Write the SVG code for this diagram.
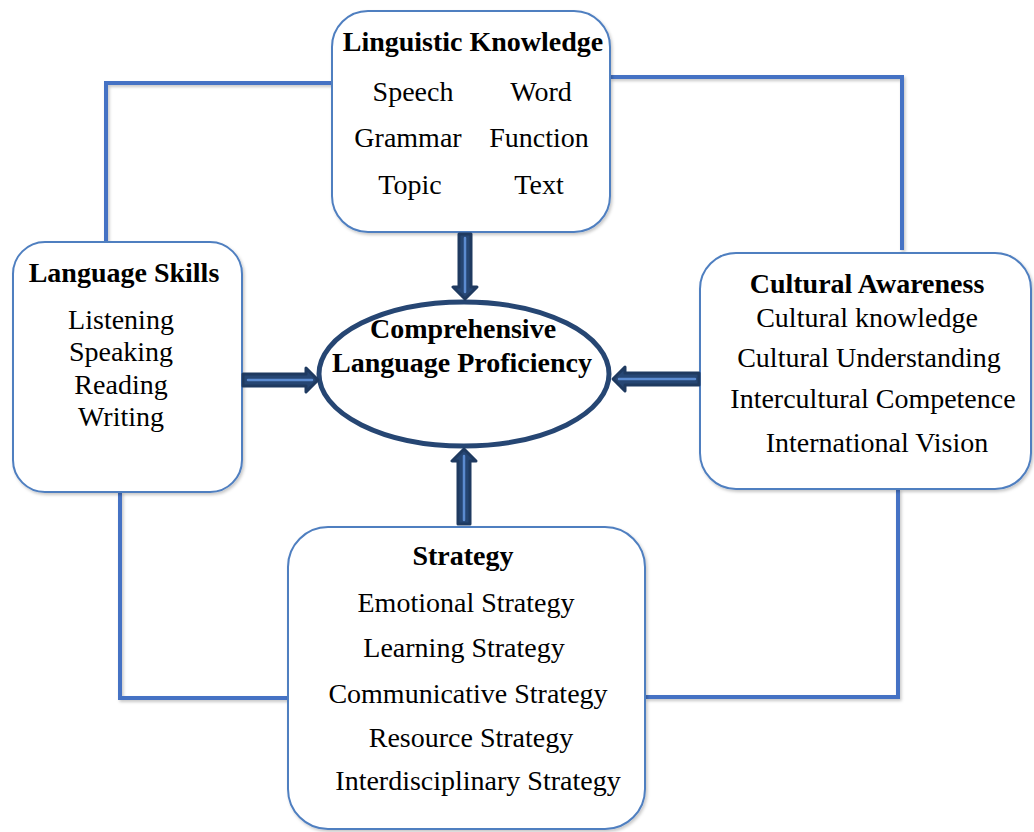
<svg xmlns="http://www.w3.org/2000/svg" width="1034" height="832" viewBox="0 0 1034 832">
  <defs>
    <filter id="shadow" x="-10%" y="-10%" width="120%" height="120%">
      <feDropShadow dx="1.5" dy="2" stdDeviation="1.5" flood-color="#000" flood-opacity="0.22"/>
    </filter>
  </defs>
  <style>
    .box { fill: #ffffff; stroke: #4f7fc0; stroke-width: 2; }
    .link { fill: none; stroke: #4472c4; stroke-width: 4; stroke-linejoin: miter; }
    .arrow-body { fill: #264673; stroke: #1f3a60; stroke-width: 3; stroke-linejoin: round; }
    .arrow-core { fill: none; stroke: #5b8bd0; stroke-width: 2.5; stroke-linecap: round; }
    .hub { fill: #ffffff; stroke: #264673; stroke-width: 5; }
    text { font-family: "Liberation Serif", "Times New Roman", serif; font-size: 28px; fill: #000; text-anchor: middle; }
    .title { font-weight: bold; font-size: 28px; }
  </style>

  <!-- frame lines joining the four outer boxes -->
  <g id="connectors" filter="url(#shadow)">
    <polyline class="link" points="106,242 106,83 332,83"/>
    <polyline class="link" points="610,77 902,77 902,250"/>
    <polyline class="link" points="120,492 120,698 288,698"/>
    <polyline class="link" points="645,697 898,697 898,489"/>
  </g>

  <!-- outer boxes -->
  <g id="linguistic-knowledge">
    <rect class="box" x="332" y="11" width="278" height="221" rx="36" filter="url(#shadow)"/>
    <text class="title" x="473" y="51">Linguistic Knowledge</text>
    <text x="413" y="101">Speech</text>
    <text x="541" y="101">Word</text>
    <text x="408" y="147">Grammar</text>
    <text x="539" y="147">Function</text>
    <text x="410" y="194">Topic</text>
    <text x="539" y="194">Text</text>
  </g>

  <g id="language-skills">
    <rect class="box" x="13" y="242" width="229" height="250" rx="32" filter="url(#shadow)"/>
    <text class="title" x="124" y="282">Language Skills</text>
    <text x="121" y="329">Listening</text>
    <text x="121" y="361">Speaking</text>
    <text x="121" y="394">Reading</text>
    <text x="121" y="426">Writing</text>
  </g>

  <g id="cultural-awareness">
    <rect class="box" x="700" y="253" width="331" height="236" rx="36" filter="url(#shadow)"/>
    <text class="title" x="867" y="293">Cultural Awareness</text>
    <text x="867" y="327">Cultural knowledge</text>
    <text x="869" y="367">Cultural Understanding</text>
    <text x="873" y="408">Intercultural Competence</text>
    <text x="877" y="452">International Vision</text>
  </g>

  <g id="strategy">
    <rect class="box" x="288" y="527" width="357" height="302" rx="40" filter="url(#shadow)"/>
    <text class="title" x="463" y="565">Strategy</text>
    <text x="466" y="612">Emotional Strategy</text>
    <text x="464" y="657">Learning Strategy</text>
    <text x="468" y="703">Communicative Strategy</text>
    <text x="471" y="747">Resource Strategy</text>
    <text x="478" y="790">Interdisciplinary Strategy</text>
  </g>

  <!-- central goal -->
  <g id="comprehensive-proficiency">
    <ellipse class="hub" cx="464" cy="374" rx="145" ry="72"/>
    <text class="title" x="463" y="338">Comprehensive</text>
    <text class="title" x="462" y="372">Language Proficiency</text>
  </g>

  <!-- block arrows pointing into the centre -->
  <g id="arrows">
    <g id="arrow-top">
      <path class="arrow-body" d="M459,234 L471,234 L471,287 L477,287 L465,299 L453,287 L459,287 Z"/>
      <line class="arrow-core" x1="465" y1="238" x2="465" y2="292"/>
    </g>
    <g id="arrow-left">
      <path class="arrow-body" d="M243,374 L306,374 L306,368 L318,380 L306,392 L306,386 L243,386 Z"/>
      <line class="arrow-core" x1="248" y1="380" x2="312" y2="380"/>
    </g>
    <g id="arrow-right">
      <path class="arrow-body" d="M699,373 L625,373 L625,367 L613,379 L625,391 L625,385 L699,385 Z"/>
      <line class="arrow-core" x1="695" y1="379" x2="619" y2="379"/>
    </g>
    <g id="arrow-bottom">
      <path class="arrow-body" d="M458,524 L470,524 L470,461 L476,461 L464,449 L452,461 L458,461 Z"/>
      <line class="arrow-core" x1="464" y1="520" x2="464" y2="456"/>
    </g>
  </g>
</svg>
